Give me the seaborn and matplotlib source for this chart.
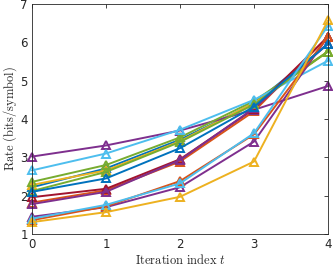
import matplotlib
matplotlib.use("Agg")
import matplotlib.pyplot as plt
import seaborn as sns
import pandas as pd

iterations = [0, 1, 2, 3, 4]

s_purple_a = [3.02, 3.31, 3.70, 4.24, 4.86]
s_lblue_a = [2.66, 3.10, 3.72, 4.50, 5.52]
s_green_a = [2.36, 2.80, 3.52, 4.47, 5.76]
s_yellow_a = [2.28, 2.66, 3.42, 4.42, 5.76]
s_blue_a = [2.22, 2.71, 3.46, 4.40, 5.96]
s_green_b = [2.12, 2.62, 3.40, 4.38, 5.76]
s_blue_b = [2.10, 2.45, 3.24, 4.32, 5.96]
s_red_a = [1.96, 2.18, 2.95, 4.26, 6.15]
s_orange_a = [1.82, 2.14, 2.89, 4.20, 6.15]
s_purple_b = [1.78, 2.10, 2.93, 4.28, 5.96]
s_purple_c = [1.45, 1.70, 2.22, 3.41, 6.15]
s_lblue_b = [1.40, 1.76, 2.32, 3.63, 6.43]
s_orange_b = [1.36, 1.72, 2.38, 3.60, 6.15]
s_yellow_b = [1.31, 1.57, 1.97, 2.89, 6.57]

series = [
    ("s1", s_blue_a, "#0072BD"),
    ("s2", s_orange_a, "#D95319"),
    ("s3", s_yellow_a, "#EDB120"),
    ("s4", s_purple_a, "#7E2F8E"),
    ("s5", s_green_a, "#77AC30"),
    ("s6", s_lblue_a, "#4DBEEE"),
    ("s7", s_red_a, "#A2142F"),
    ("s8", s_purple_b, "#7E2F8E"),
    ("s9", s_green_b, "#77AC30"),
    ("s10", s_purple_c, "#7E2F8E"),
    ("s11", s_orange_b, "#D95319"),
    ("s12", s_blue_b, "#0072BD"),
    ("s13", s_lblue_b, "#4DBEEE"),
    ("s14", s_yellow_b, "#EDB120"),
]

rows = []
for name, vals, _ in series:
    for t, v in zip(iterations, vals):
        rows.append({"series": name, "t": t, "rate": v})
df = pd.DataFrame(rows)
palette = {name: c for name, _, c in series}

sns.set_style("white")
plt.rcParams["mathtext.fontset"] = "cm"
plt.rcParams["font.family"] = ["DejaVu Sans"]

fig = plt.figure(figsize=(3.33, 2.67), dpi=100)
ax = fig.add_axes([32 / 333, 1 - 234 / 267, 296 / 333, 230 / 267])

sns.lineplot(data=df, x="t", y="rate", hue="series", palette=palette,
             marker="^", markersize=5.5, linewidth=1.4, legend=False, ax=ax)
for ln in ax.lines:
    c = ln.get_color()
    ln.set_markeredgecolor(c)
    ln.set_markerfacecolor("none")
    ln.set_markeredgewidth(1.4)
    ln.set_clip_on(False)

ax.set_xlim(0, 4)
ax.set_ylim(1, 7)
ax.set_xticks(iterations)
ax.set_yticks([1, 2, 3, 4, 5, 6, 7])
ax.tick_params(direction="in", length=3, width=0.6, colors="#262626",
               labelsize=8.5, top=True, right=True, pad=3)
for sp in ax.spines.values():
    sp.set_color("#262626")
    sp.set_linewidth(0.6)
    sp.set_visible(True)

ax.set_xlabel(r"$\mathrm{Iteration\ index}\ t$", fontsize=9, color="#262626", labelpad=1)
ax.set_ylabel(r"$\mathrm{Rate\ (bits/symbol)}$", fontsize=9, color="#262626", labelpad=1)

fig.savefig("out.png", dpi=100)
